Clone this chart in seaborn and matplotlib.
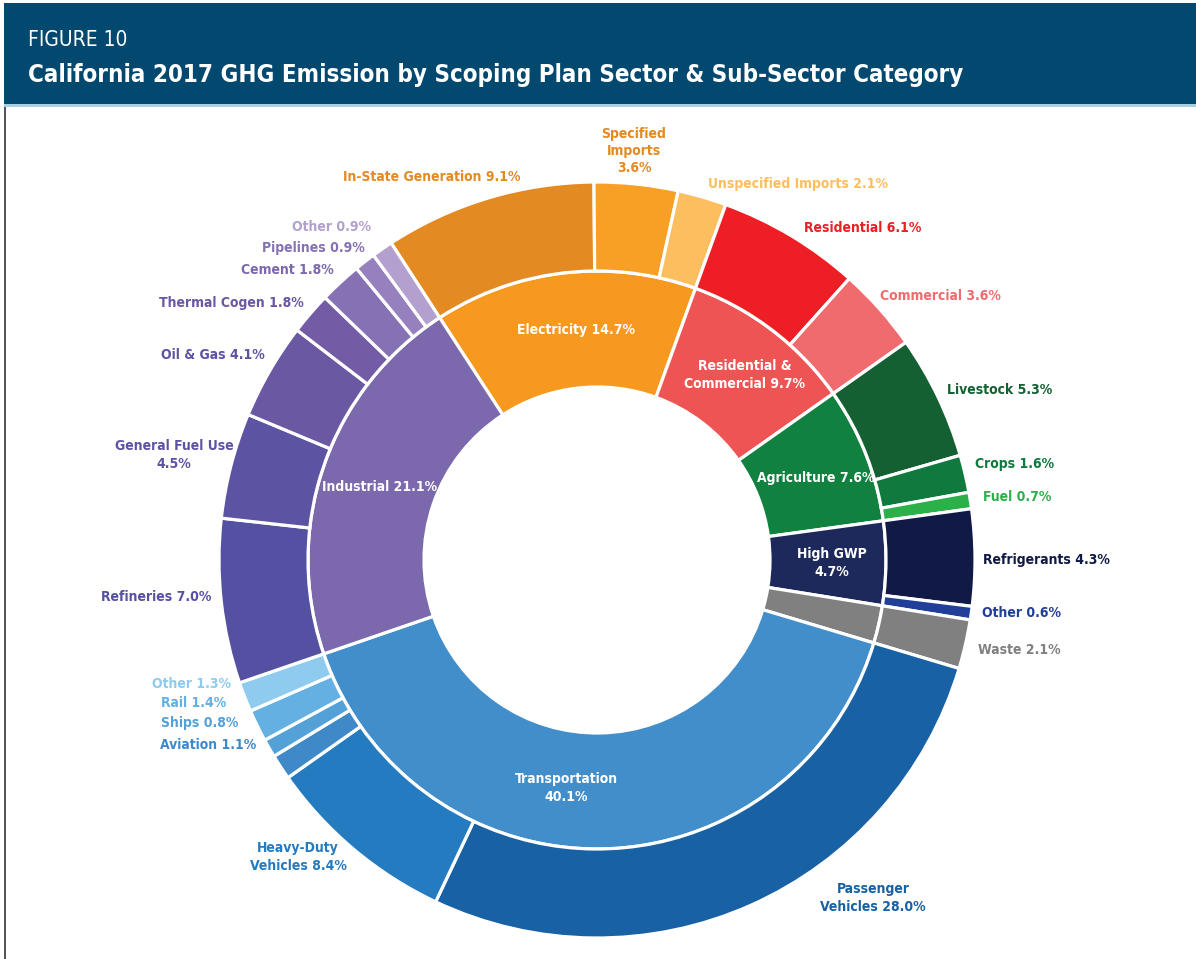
import matplotlib
matplotlib.use('Agg')
import matplotlib.pyplot as plt
import seaborn as sns
from matplotlib.patches import Rectangle

# inner ring: scoping plan sectors (clockwise from upper left)
sectors = ['Electricity', 'Residential & Commercial', 'Agriculture', 'High GWP',
           'Waste', 'Transportation', 'Industrial']
sector_values = [14.7, 9.7, 7.6, 4.7, 2.1, 40.1, 21.1]
sector_labels = ['Electricity 14.7%', 'Residential &\nCommercial 9.7%', 'Agriculture 7.6%',
                 'High GWP\n4.7%', '', 'Transportation\n40.1%', 'Industrial 21.1%']

# outer ring: sub-sector categories
sub_parent = ['Electricity'] * 3 + ['Residential & Commercial'] * 2 + ['Agriculture'] * 3 + \
             ['High GWP'] * 2 + ['Waste'] + ['Transportation'] * 6 + ['Industrial'] * 7
sub_names = ['In-State Generation', 'Specified Imports', 'Unspecified Imports',
             'Residential', 'Commercial',
             'Livestock', 'Crops', 'Fuel',
             'Refrigerants', 'Other',
             'Waste',
             'Passenger Vehicles', 'Heavy-Duty Vehicles', 'Aviation', 'Ships', 'Rail', 'Other',
             'Refineries', 'General Fuel Use', 'Oil & Gas', 'Thermal Cogen', 'Cement',
             'Pipelines', 'Other']
sub_values = [9.1, 3.6, 2.1,
              6.1, 3.6,
              5.3, 1.6, 0.7,
              4.3, 0.6,
              2.1,
              28.0, 8.4, 1.1, 0.8, 1.4, 1.3,
              7.0, 4.5, 4.1, 1.8, 1.8, 0.9, 0.9]
sub_labels = ['In-State Generation 9.1%', 'Specified\nImports\n3.6%', 'Unspecified Imports 2.1%',
              'Residential 6.1%', 'Commercial 3.6%',
              'Livestock 5.3%', 'Crops 1.6%', 'Fuel 0.7%',
              'Refrigerants 4.3%', 'Other 0.6%',
              'Waste 2.1%',
              'Passenger\nVehicles 28.0%', 'Heavy-Duty\nVehicles 8.4%', 'Aviation 1.1%',
              'Ships 0.8%', 'Rail 1.4%', 'Other 1.3%',
              'Refineries 7.0%', 'General Fuel Use\n4.5%', 'Oil & Gas 4.1%',
              'Thermal Cogen 1.8%', 'Cement 1.8%', 'Pipelines 0.9%', 'Other 0.9%']

sector_colors = ['#F7991F', '#EF5455', '#10813F', '#1D285B', '#808080', '#428ECB', '#7C69AD']
sub_colors = ['#E38A23', '#F7A025', '#FDBE5F',
              '#ED1F24', '#F06B6E',
              '#156033', '#10793D', '#2BB04A',
              '#111947', '#213F99',
              '#808080',
              '#1761A4', '#257BC0', '#3F89C9', '#54A1D7', '#64B0E2', '#8FCBEE',
              '#5451A2', '#5C53A3', '#6B58A3', '#735CA5', '#8571B4', '#9680BD', '#B3A0CE']
sub_text_colors = ['#E38A23', '#E38A23', '#FDBE5F',
                   '#ED1F24', '#F06B6E',
                   '#156033', '#10793D', '#2BB04A',
                   '#111947', '#213F99',
                   '#808080',
                   '#1761A4', '#257BC0', '#3F89C9', '#54A1D7', '#64B0E2', '#8FCBEE',
                   '#5451A2', '#5C53A3', '#5C53A3', '#6B58A3', '#7C69AD', '#8571B4', '#B3A0CE']

# label anchors in image pixels (x, y from top, horizontal alignment)
sub_label_pos = [(432, 177, 'center'), (634, 151, 'center'), (708, 184, 'left'),
                 (804, 228, 'left'), (880, 296, 'left'),
                 (947, 390, 'left'), (975, 464, 'left'), (983, 497, 'left'),
                 (983, 560, 'left'), (982, 613, 'left'),
                 (978, 650, 'left'),
                 (873, 898, 'center'), (298, 857, 'center'), (256, 745, 'right'),
                 (238, 723, 'right'), (226, 703, 'right'), (231, 684, 'right'),
                 (211, 597, 'right'), (174, 455, 'center'), (265, 355, 'right'),
                 (304, 303, 'right'), (334, 270, 'right'), (365, 248, 'right'), (371, 227, 'right')]
sector_label_pos = [(576, 330), (745, 375), (816, 478), (832, 563), (0, 0), (566, 788), (380, 487)]

W, H = 1196, 959
CX, CY = 597, 560
R_OUT, R_MID, R_IN = 378, 289, 173

# outer wedges share the angular span of their parent sector
group_sum = {}
for p, v in zip(sub_parent, sub_values):
    group_sum[p] = group_sum.get(p, 0) + v
sub_span = [v / group_sum[p] * sector_values[sectors.index(p)] for p, v in zip(sub_parent, sub_values)]

sns.set_theme(style='white')
plt.rcParams['font.family'] = ['DejaVu Sans']
plt.rcParams['font.stretch'] = 'condensed'

fig = plt.figure(figsize=(W / 100, H / 100), dpi=100)
ax = fig.add_axes([0, 0, 1, 1])

def Y(y):
    return H - y

ax.pie(sector_values, radius=R_MID, center=(CX, Y(CY)), startangle=123, counterclock=False,
       colors=sector_colors, wedgeprops=dict(width=R_MID - R_IN, edgecolor='white', linewidth=2.3))
ax.pie(sub_span, radius=R_OUT, center=(CX, Y(CY)), startangle=123, counterclock=False,
       colors=sub_colors, wedgeprops=dict(width=R_OUT - R_MID, edgecolor='white', linewidth=2.3))

ax.set_xlim(0, W)
ax.set_ylim(0, H)
ax.set_aspect('auto')
ax.axis('off')

for lab, (x, y), in zip(sector_labels, sector_label_pos):
    if lab:
        ax.text(x, Y(y), lab, color='white', fontsize=10, fontweight='bold',
                ha='center', va='center', linespacing=1.3)

for lab, (x, y, ha), c in zip(sub_labels, sub_label_pos, sub_text_colors):
    ax.text(x, Y(y), lab, color=c, fontsize=10, fontweight='bold',
            ha=ha, va='center', linespacing=1.3, multialignment='center')

# header band
fig.patches.append(Rectangle((4 / W, 1 - 104 / H), 1, 101 / H, transform=fig.transFigure,
                             facecolor='#03496F', edgecolor='none', zorder=0))
fig.patches.append(Rectangle((4 / W, 1 - 107 / H), 1, 3 / H, transform=fig.transFigure,
                             facecolor='#A9CFE5', edgecolor='none', zorder=0))
fig.patches.append(Rectangle((4 / W, 0), 2 / W, 1 - 107 / H, transform=fig.transFigure,
                             facecolor='#555555', edgecolor='none', zorder=0))
fig.text(28 / W, 1 - 40 / H, 'FIGURE 10', color='white', fontsize=15, fontweight='light',
         ha='left', va='center')
fig.text(28 / W, 1 - 75 / H, 'California 2017 GHG Emission by Scoping Plan Sector & Sub-Sector Category',
         color='white', fontsize=17.3, fontweight='bold', ha='left', va='center')

fig.savefig('out.png', dpi=100)
